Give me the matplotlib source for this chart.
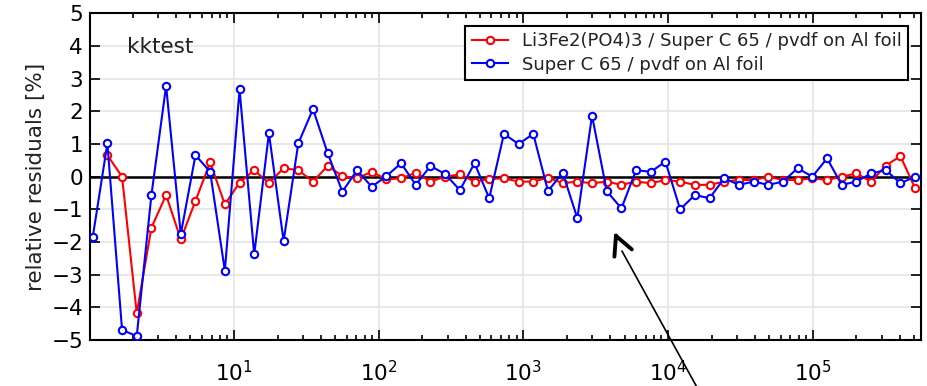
import numpy as np
import matplotlib
matplotlib.use('Agg')
import matplotlib.pyplot as plt

# frequencies (Hz), ~10 points per decade
freq = [1.056, 1.334, 1.685, 2.128, 2.689, 3.396, 4.290, 5.420, 6.846, 8.650,
        10.93, 13.80, 17.44, 22.03, 27.83, 35.16, 44.42, 56.10, 70.87, 89.54,
        113.1, 142.9, 180.5, 228.0, 288.1, 363.9, 459.8, 580.8, 733.8, 926.8,
        1171, 1479, 1869, 2360, 2982, 3767, 4759, 6012, 7595, 9594,
        12120, 15310, 19340, 24430, 30870, 38990, 49260, 62230, 78610, 99310,
        125500, 158500, 200200, 252900, 319600, 403600, 509900]

# Li3Fe2(PO4)3 sample, starts at the second frequency
red_res = [0.66, 0.00, -4.18, -1.56, -0.56, -1.92, -0.74, 0.44, -0.85,
           -0.18, 0.20, -0.20, 0.26, 0.20, -0.15, 0.33, 0.02, -0.05, 0.15,
           -0.08, -0.05, 0.12, -0.15, 0.00, 0.07, -0.15, -0.07, -0.05, -0.15,
           -0.15, -0.03, -0.20, -0.15, -0.20, -0.15, -0.25, -0.15, -0.20, -0.10,
           -0.15, -0.25, -0.25, -0.15, -0.10, -0.10, 0.00, -0.10, -0.10, -0.05,
           -0.10, 0.00, 0.10, -0.15, 0.34, 0.63, -0.36]

blue_res = [-1.86, 1.02, -4.69, -4.88, -0.56, 2.78, -1.76, 0.66, 0.15, -2.88,
            2.67, -2.38, 1.33, -1.97, 1.02, 2.07, 0.72, -0.46, 0.20, -0.31,
            0.02, 0.41, -0.25, 0.33, 0.08, -0.41, 0.41, -0.66, 1.31, 1.00,
            1.31, -0.44, 0.12, -1.27, 1.87, -0.44, -0.97, 0.20, 0.15, 0.46,
            -1.00, -0.56, -0.66, -0.05, -0.25, -0.15, -0.25, -0.15, 0.26, 0.00,
            0.56, -0.25, -0.15, 0.10, 0.20, -0.20, 0.00]

red_label = 'Li3Fe2(PO4)3 / Super C 65 / pvdf on Al foil'
blue_label = 'Super C 65 / pvdf on Al foil'

plt.rcParams['font.family'] = 'DejaVu Sans'
plt.rcParams['font.size'] = 15.5

fig = plt.figure(figsize=(9.28, 3.86), dpi=100)
ax = fig.add_axes([0.097, 0.119, 0.8955, 0.8465])

ax.grid(True, which='major', color='#e4e4e4', lw=1.2, zorder=0)
ax.axhline(0, color='black', lw=1.8, zorder=2)

ax.plot(freq[1:], red_res, '-o', color='red', mfc='white', mec='red',
        ms=5.3, mew=1.5, lw=1.5, label=red_label, zorder=3)
ax.plot(freq, blue_res, '-o', color='blue', mfc='white', mec='blue',
        ms=5.3, mew=1.5, lw=1.5, label=blue_label, zorder=4)

ax.set_xscale('log')
ax.set_xlim(1.012, 5.6e5)
ax.set_ylim(-5, 5)
ax.set_yticks(range(-5, 6))
ax.set_ylabel('relative residuals [%]', color='#222222')

ax.tick_params(which='both', direction='in', top=True, right=True, width=1.2)
ax.tick_params(which='major', length=7)
ax.tick_params(which='minor', length=3.5)
ax.tick_params(axis='x', pad=14)
ax.tick_params(axis='y', pad=5)
for sp in ax.spines.values():
    sp.set_linewidth(1.5)

ax.text(0.045, 0.88, 'kktest', transform=ax.transAxes, fontsize=15.5,
        color='#222222')

leg = ax.legend(loc='upper right', fontsize=13, numpoints=1, fancybox=False,
                framealpha=1, edgecolor='black', handlelength=2.0,
                borderaxespad=0.7, borderpad=0.35, labelspacing=0.3)
leg.get_frame().set_linewidth(1.5)
for t in leg.get_texts():
    t.set_color('#222222')

# arrow pointing at the residuals, coming from below the plot
ax.annotate('', xy=(4700, -2.2), xytext=(23000, -7.75),
            arrowprops=dict(arrowstyle='-', lw=1.2, color='black'),
            annotation_clip=False)
ax.annotate('', xy=(4250, -1.69), xytext=(4400, -1.85),
            arrowprops=dict(arrowstyle='->,head_length=0.67,head_width=0.34',
                            lw=2.8, color='black', shrinkA=0, shrinkB=0,
                            mutation_scale=20),
            annotation_clip=False)

fig.savefig('out.png', dpi=100)
